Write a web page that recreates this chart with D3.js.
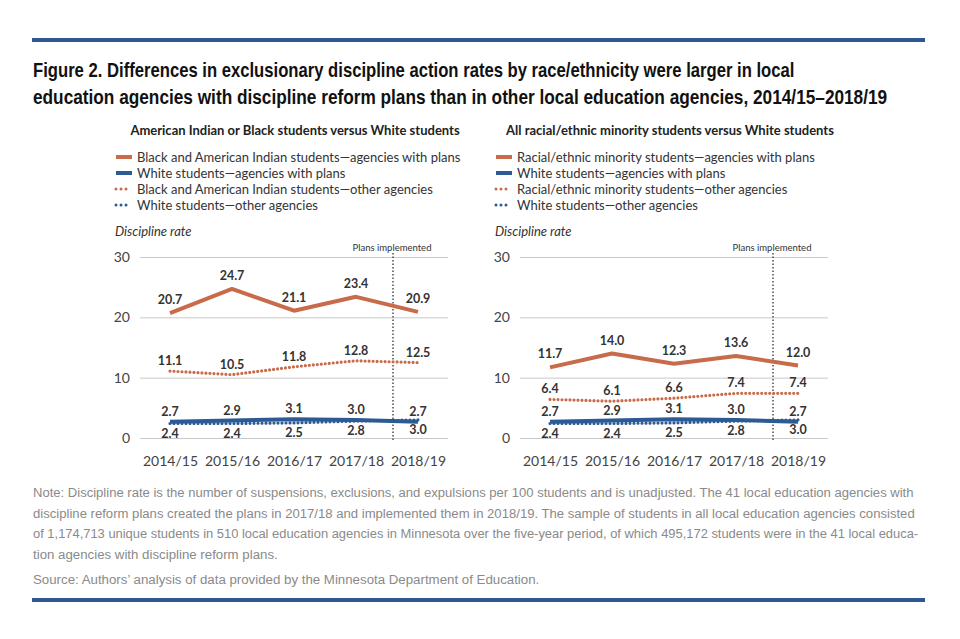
<!DOCTYPE html>
<html>
<head>
<meta charset="utf-8">
<script src="https://cdn.jsdelivr.net/npm/d3@7"></script>
<style>
	body { margin: 0; background: #fff; }
	svg { display: block; }
	.title { font-family: "Liberation Sans", Arial, sans-serif; font-weight: bold; font-size: 20px; fill: #111; }
	.sub { font-family: Lato, "Noto Sans", sans-serif; font-weight: bold; font-size: 13px; fill: #222; }
	.leg { font-family: Lato, "Noto Sans", sans-serif; font-size: 13px; fill: #333; }
	.note { font-family: "Liberation Sans", Arial, sans-serif; font-size: 13.5px; fill: #8a8a8a; }
	.axis text { font-family: Lato, "Noto Sans", sans-serif; font-size: 14px; fill: #444; }
	.val { font-family: Lato, "Noto Sans", sans-serif; font-weight: bold; font-size: 12.5px; fill: #333; text-anchor: middle; }
</style>
</head>
<body>
<svg id="chart" width="960" height="639"></svg>
<script>
var years = ['2014/15', '2015/16', '2016/17', '2017/18', '2018/19'];
var yTicks = [0, 10, 20, 30];

// left panel
var blackPlans = [20.7, 24.7, 21.1, 23.4, 20.9];
var blackOther = [11.1, 10.5, 11.8, 12.8, 12.5];
// right panel
var minorityPlans = [11.7, 14.0, 12.3, 13.6, 12.0];
var minorityOther = [6.4, 6.1, 6.6, 7.4, 7.4];
// white students, same in both panels
var whitePlans = [2.7, 2.9, 3.1, 3.0, 2.7];
var whiteOther = [2.4, 2.4, 2.5, 2.8, 3.0];

var orange = '#c86b4b',
	blue = '#2c5a94',
	svg = d3.select('#chart');

svg.append('rect').attr('width', 960).attr('height', 639).attr('fill', '#fff');

// top and bottom rules
svg.append('rect').attr('x', 32).attr('y', 38).attr('width', 893).attr('height', 4).attr('fill', '#2f5893');
svg.append('rect').attr('x', 32).attr('y', 598).attr('width', 893).attr('height', 4).attr('fill', '#2f5893');

// the original uses a condensed face: squeeze each line horizontally to the same width
function squeezed(cls, x, y, w, t){
	var txt = svg.append('text').attr('class', cls).text(t);
	var k = Math.min(1, w / txt.node().getComputedTextLength());
	txt.attr('transform', 'translate(' + x + ',' + y + ') scale(' + k + ',1)');
	return txt;
}

squeezed('title', 33, 77, 762, 'Figure 2. Differences in exclusionary discipline action rates by race/ethnicity were larger in local');
squeezed('title', 33, 104, 855, 'education agencies with discipline reform plans than in other local education agencies, 2014/15\u20132018/19');

var notes = [
	{t: 'Note: Discipline rate is the number of suspensions, exclusions, and expulsions per 100 students and is unadjusted. The 41 local education agencies with', w: 882},
	{t: 'discipline reform plans created the plans in 2017/18 and implemented them in 2018/19. The sample of students in all local education agencies consisted', w: 883},
	{t: 'of 1,174,713 unique students in 510 local education agencies in Minnesota over the five-year period, of which 495,172 students were in the 41 local educa-', w: 886},
	{t: 'tion agencies with discipline reform plans.', w: 245}
];
notes.forEach(function(d, i){
	squeezed('note', 33, 497 + i * 20.5, d.w, d.t);
});
squeezed('note', 33, 584, 507, 'Source: Authors\u2019 analysis of data provided by the Minnesota Department of Education.');

function panel(x0, subX, title, group, groupPlans, groupOther){
	var g = svg.append('g').attr('transform', 'translate(' + x0 + ',0)');

	g.append('text').attr('class', 'sub').attr('x', subX).attr('y', 135)
		.attr('text-anchor', 'middle').text(title);

	var legend = [
		{label: group + '\u2014agencies with plans', color: orange, dotted: false},
		{label: 'White students\u2014agencies with plans', color: blue, dotted: false},
		{label: group + '\u2014other agencies', color: orange, dotted: true},
		{label: 'White students\u2014other agencies', color: blue, dotted: true}
	];
	legend.forEach(function(d, i){
		var y = 157 + i * 16;
		g.append('line')
			.attr('x1', 16).attr('x2', d.dotted ? 30 : 32)
			.attr('y1', y).attr('y2', y)
			.attr('stroke', d.color)
			.attr('stroke-width', d.dotted ? 3 : 4)
			.attr('stroke-linecap', d.dotted ? 'round' : 'butt')
			.attr('stroke-dasharray', d.dotted ? '0,5' : null);
		g.append('text').attr('class', 'leg').attr('x', 37).attr('y', y + 4.5).text(d.label);
	});

	g.append('text').attr('class', 'leg').attr('x', 15).attr('y', 236)
		.style('font-style', 'italic').text('Discipline rate');

	var x = d3.scalePoint().domain(years).range([70, 318]);
	var y = d3.scaleLinear().domain([0, 30]).range([438, 257]);

	var yAxis = g.append('g').attr('class', 'axis').attr('transform', 'translate(40,0)')
		.call(d3.axisLeft(y).tickValues(yTicks).tickSize(-308).tickPadding(10));
	yAxis.select('.domain').remove();
	yAxis.selectAll('line').attr('stroke', '#c8c8c8');
	yAxis.selectAll('text').attr('fill', '#444');

	var xAxis = g.append('g').attr('class', 'axis').attr('transform', 'translate(0,448)')
		.call(d3.axisBottom(x).tickSize(0).tickPadding(8));
	xAxis.select('.domain').remove();

	// plans implemented marker
	var mx = (x('2017/18') + x('2018/19')) / 2 + 6;
	g.append('line').attr('x1', mx).attr('x2', mx).attr('y1', 253).attr('y2', 442)
		.attr('stroke', '#222').attr('stroke-width', 1.2).attr('stroke-dasharray', '1.5,2');
	g.append('text').attr('x', mx - 1).attr('y', 251).attr('text-anchor', 'middle')
		.style('font-family', 'Lato, "Noto Sans", sans-serif').style('font-size', '9.5px').attr('fill', '#333')
		.text('Plans implemented');

	var line = d3.line().x(function(d, i){ return x(years[i]); }).y(function(d){ return y(d); });

	var series = [
		{values: whiteOther, color: blue, dotted: true, dy: 14},
		{values: groupOther, color: orange, dotted: true, dy: -6},
		{values: whitePlans, color: blue, dotted: false, dy: -6},
		{values: groupPlans, color: orange, dotted: false, dy: -9}
	];

	series.forEach(function(s){
		g.append('path').datum(s.values)
			.attr('d', line)
			.attr('fill', 'none')
			.attr('stroke', s.color)
			.attr('stroke-width', s.dotted ? 3.2 : 4)
			.attr('stroke-linecap', s.dotted ? 'round' : 'butt')
			.attr('stroke-linejoin', 'round')
			.attr('stroke-dasharray', s.dotted ? '0,4' : null);
	});

	series.forEach(function(s){
		g.selectAll(null).data(s.values).enter().append('text')
			.attr('class', 'val')
			.attr('x', function(d, i){ return x(years[i]); })
			.attr('y', function(d){ return y(d) + s.dy; })
			.text(function(d){ return d.toFixed(1); });
	});
}

panel(100, 195, 'American Indian or Black students versus White students', 'Black and American Indian students', blackPlans, blackOther);
panel(480, 190, 'All racial/ethnic minority students versus White students', 'Racial/ethnic minority students', minorityPlans, minorityOther);
</script>
</body>
</html>
